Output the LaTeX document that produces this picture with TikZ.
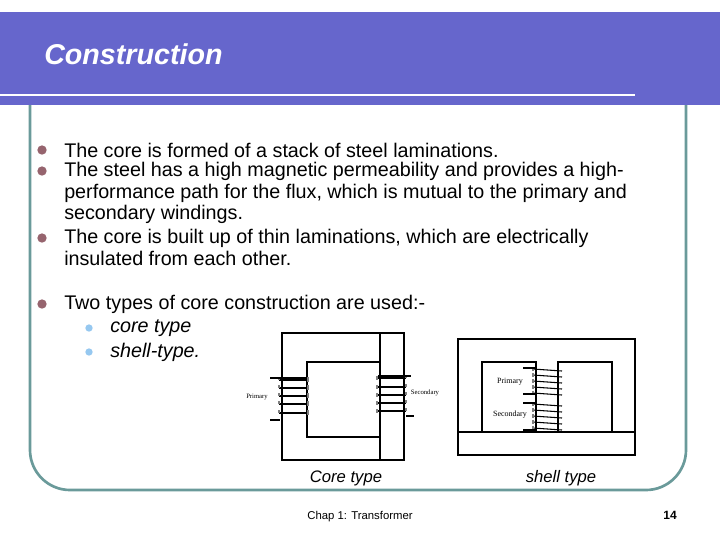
\documentclass[tikz,border=0pt]{standalone}
\usepackage{fontspec}
\setmainfont{Liberation Sans}
\newfontfamily\serifA{Liberation Serif}
\begin{document}
\begin{tikzpicture}[x=0.75pt,y=-0.75pt,
  body/.style={anchor=west,inner sep=0,font=\fontsize{14.8}{17}\selectfont},
  bul/.style={circle,fill={rgb,255:red,150;green,100;blue,110},inner sep=0,minimum size=7},
  sbul/.style={circle,fill={rgb,255:red,150;green,200;blue,240},inner sep=0,minimum size=5.5},
  core/.style={line width=0.9pt},
  turn/.style={line width=0.8pt},
  tiny/.style={font=\serifA\fontsize{5}{6}\selectfont,inner sep=0},
  captext/.style={font=\itshape\fontsize{12.5}{14}\selectfont}]
\useasboundingbox (0,0) rectangle (720,540);
\fill[white] (0,0) rectangle (720,540);
% header
\fill[fill={rgb,255:red,102;green,102;blue,204}] (0,12) rectangle (720,105);
\draw[white,line width=1.5pt] (0,95) -- (635,95);
\node[anchor=west,inner sep=0,text=white,font=\bfseries\itshape\fontsize{21.5}{24}\selectfont] (title) at (44,54) {Construction};
% frame
\draw[color={rgb,255:red,106;green,154;blue,154},line width=2pt,rounded corners=30] (30,105) -- (30,490) -- (686,490) -- (686,105);
% bullets
\foreach \y in {150,171,238,304} \node[bul] at (42,\y) {};
\node[body] (t1) at (64,150) {The core is formed of a stack of steel laminations.};
\node[body] (t2) at (64,171) {The steel has a high magnetic permeability and provides a high-};
\node[body] (t3) at (64,193) {performance path for the flux, which is mutual to the primary and};
\node[body] (t4) at (64,214) {secondary windings.};
\node[body] (t5) at (64,238) {The core is built up of thin laminations, which are electrically};
\node[body] (t6) at (64,258) {insulated from each other.};
\node[body] (t7) at (64,304) {Two types of core construction are used:-};
\node[sbul] at (89,328) {};\node[sbul] at (89,352) {};
\node[body,font=\itshape\fontsize{14.8}{17}\selectfont] (t8) at (110,328) {core type};
\node[body,font=\itshape\fontsize{14.8}{17}\selectfont] (t9) at (110,352) {shell-type.};
% core type figure
\draw[core] (282,333) rectangle (404,460);
\draw[core] (307,362) rectangle (380,437);
\draw[core] (380,333) -- (380,460);
\foreach \y in {380,388,396,404,413} {
  \draw[turn] (279,\y) -- (308,\y);
  \draw[turn,gray] (279,\y-3) -- (279,\y); \draw[turn,gray] (308,\y-3) -- (308,\y+2);
}
\draw[turn] (270,378) -- (306,378);
\draw[turn] (270,420) -- (280,420);
\foreach \y in {378,387,395,403,411} {
  \draw[turn] (377,\y) -- (406,\y);
  \draw[turn,gray] (377,\y-2) -- (377,\y+2); \draw[turn,gray] (406,\y-3) -- (406,\y);
}
\draw[turn] (378,376) -- (411,376);
\draw[turn] (406,416) -- (414,416);
\node[tiny] (pl) at (257,397) {Primary};
\node[tiny] (sl) at (425,393) {Secondary};
% shell type figure
\draw[core] (458,339) rectangle (635,455);
\draw[core] (458,432) -- (635,432);
\draw[core] (482,432) -- (482,362) -- (536,362) -- (536,432);
\draw[core] (558,432) -- (558,362) -- (612,362) -- (612,432);
\foreach \y in {369,375,381,387,393} {
  \draw[turn] (533,\y) -- (562,\y+2);
  \draw[turn,gray] (533,\y-2) -- (533,\y+2);
}
\foreach \y in {404,410,416,422,428} {
  \draw[turn] (533,\y) -- (562,\y+2);
  \draw[turn,gray] (533,\y-2) -- (533,\y+2);
}
\draw[turn] (523,368) -- (536,368); \draw[turn] (523,394) -- (536,394);
\draw[turn] (523,403) -- (536,403); \draw[turn] (523,430) -- (536,430);
\node[tiny,font=\serifA\fontsize{6}{7}\selectfont] (sp) at (510,382) {Primary};
\node[tiny,font=\serifA\fontsize{6}{7}\selectfont] (ss) at (510,415) {Secondary};
% captions
\node[captext] (c1) at (346,478) {Core type};
\node[captext] (c2) at (561,478) {shell type};
\node[font=\fontsize{8.5}{10}\selectfont] (foot) at (360,517) {Chap 1: Transformer};
\node[font=\bfseries\fontsize{9}{10}\selectfont] (pg) at (670,515) {14};
\end{tikzpicture}
\end{document}
